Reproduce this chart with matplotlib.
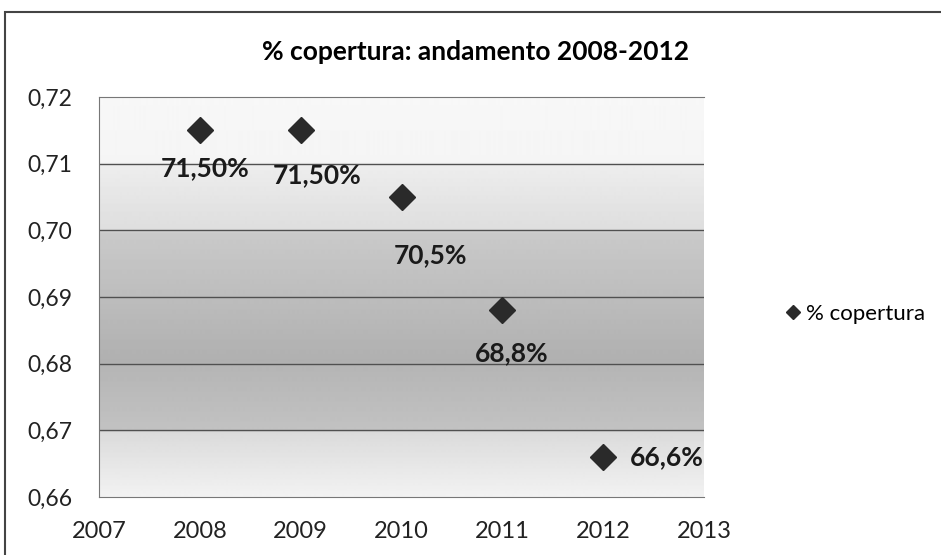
import matplotlib
matplotlib.use("Agg")
import matplotlib.pyplot as plt
import matplotlib.patches as patches
from matplotlib.ticker import FuncFormatter
import numpy as np

# dati
anni = [2008, 2009, 2010, 2011, 2012]
copertura = [0.715, 0.715, 0.705, 0.688, 0.666]
etichette = ["71,50%", "71,50%", "70,5%", "68,8%", "66,6%"]
titolo = "% copertura: andamento 2008-2012"
nome_serie = "% copertura"

# posizione delle etichette (offset in punti rispetto al marker)
offsets = [(3.5, -27), (11.5, -32), (21, -42), (6.5, -31), (19, 0)]
allineamento = ['center', 'center', 'center', 'center', 'left']

plt.rcParams['font.family'] = ['Lato', 'DejaVu Sans']

fig = plt.figure(figsize=(9.41, 5.55), dpi=100)
ax = fig.add_axes([99 / 941, 1 - 497 / 555, 605 / 941, 400 / 555])

ax.set_xlim(2007, 2013)
ax.set_ylim(0.66, 0.72)

# sfondo sfumato dell'area del grafico
ys = np.linspace(0, 1, 400)
prof = np.interp(ys, [0.0, 0.16, 0.17, 0.33, 0.34, 0.5, 0.66, 0.67, 0.83, 0.84, 1.0],
                 [0.95, 0.86, 0.76, 0.71, 0.69, 0.74, 0.79, 0.87, 0.93, 0.96, 0.97])
ax.imshow(prof[:, None], cmap='gray', vmin=0, vmax=1, aspect='auto',
          extent=[2007, 2013, 0.66, 0.72], origin='lower', zorder=0)

for v in [0.67, 0.68, 0.69, 0.70, 0.71]:
    ax.axhline(v, color='#505050', lw=1, zorder=1)

ax.plot(anni, copertura, linestyle='none', marker='D', markersize=13,
        color='#2a2a2a', label=nome_serie, zorder=3)

for x, y, t, off, ha in zip(anni, copertura, etichette, offsets, allineamento):
    ax.annotate(t, (x, y), xytext=off, textcoords='offset points',
                ha=ha, va='center', fontsize=19, fontweight='bold', color='#1a1a1a', zorder=4)

ax.yaxis.set_major_formatter(FuncFormatter(lambda v, p: f"{v:.2f}".replace('.', ',')))
ax.set_yticks(np.arange(0.66, 0.7201, 0.01))
ax.set_xticks(range(2007, 2014))
ax.tick_params(axis='y', length=0, labelsize=16.5, colors='#222222', pad=19)
ax.tick_params(axis='x', length=0, labelsize=17, colors='#222222', pad=17)

for s in ['left', 'bottom', 'top']:
    ax.spines[s].set_color('#777777')
ax.spines['right'].set_visible(False)

fig.text(476 / 941, 1 - 52 / 555, titolo, ha='center', va='center', fontsize=19, fontweight='bold')

fig.legend(loc='center left', bbox_to_anchor=(766 / 941, 1 - 314 / 555), frameon=False,
           fontsize=16, markerscale=0.55, handlelength=0.6, handletextpad=0.3)

# bordo esterno
fig.patches.append(patches.Rectangle((5 / 941, -0.1), 1.1, 1.1 - 12 / 555,
                                     transform=fig.transFigure, fill=False,
                                     ec='#444444', lw=1.5))

fig.savefig("out.png", dpi=100)
